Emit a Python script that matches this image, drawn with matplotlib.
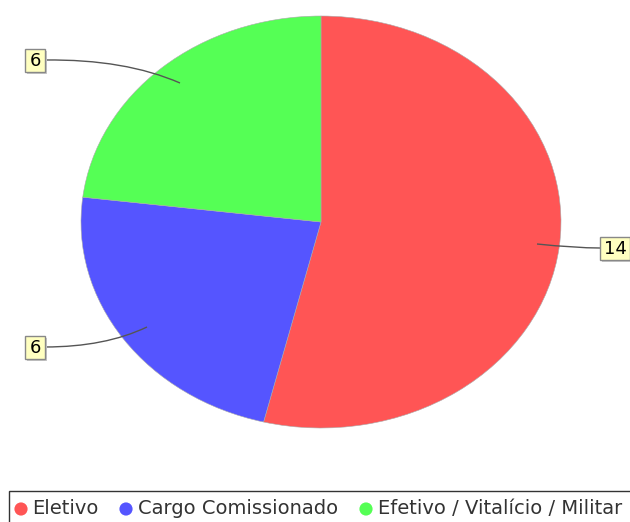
import matplotlib
matplotlib.use("Agg")
import matplotlib.pyplot as plt
from matplotlib.path import Path
from matplotlib.patches import PathPatch, Rectangle

categories = ["Eletivo", "Cargo Comissionado", "Efetivo / Vitalício / Militar"]
values = [14, 6, 6]
colors = ["#FF5555", "#5555FF", "#55FF55"]

W, H = 630, 522
fig = plt.figure(figsize=(W / 100, H / 100), dpi=100)
fig.patch.set_facecolor("white")

# Pie axes: ellipse center (321,222), radii 240 x 206 px
cx, cy, rx, ry = 321, 222, 240, 206
ax = fig.add_axes([0, 0, 1, 1])
ax.pie(values, colors=colors, startangle=90, counterclock=False,
       wedgeprops=dict(linewidth=0.4, edgecolor="#AAAAAA"))
ax.set_aspect("auto")
ax.set_xlim((0 - cx) / rx, (W - cx) / rx)
ax.set_ylim((cy - H) / ry, (cy - 0) / ry)
ax.axis("off")

# Overlay axes in pixel coordinates
ov = fig.add_axes([0, 0, 1, 1])
ov.set_xlim(0, W)
ov.set_ylim(H, 0)
ov.axis("off")
ov.patch.set_alpha(0)

# leader lines (value index, path points)
leaders = [
    (0, [(600, 248), (575, 248), (537, 244)]),
    (1, [(45, 347), (105, 347), (147, 327)]),
    (2, [(45, 60), (125, 59), (180, 83)]),
]
# label boxes: value index -> (left x, center y)
label_box = {0: (600, 248), 1: (25, 347), 2: (25, 60)}
for idx, pts in leaders:
    path = Path(pts, [Path.MOVETO, Path.CURVE3, Path.CURVE3])
    ov.add_patch(PathPatch(path, fc="none", ec="#555555", lw=1.0))
for idx, (x, y) in label_box.items():
    txt = str(values[idx])
    bw = 10 + 10 * len(txt)
    bh = 23
    ov.add_patch(Rectangle((x + 2, y - bh / 2 + 2), bw, bh, fc="#C8C8C8", ec="none", zorder=3))
    ov.add_patch(Rectangle((x, y - bh / 2), bw, bh, fc="#FFFFC0", ec="#888888", lw=1, zorder=4))
    ov.text(x + bw / 2, y + 1, txt, fontsize=13, ha="center", va="center",
            color="black", zorder=5)

# Legend box
ov.add_patch(Rectangle((9, 491), 640, 40, fc="white", ec="#333333", lw=1))
leg_x = [(21, 32), (126, 138), (366, 378)]
for (mx, tx), c, name in zip(leg_x, colors, categories):
    ov.scatter([mx], [509], s=90, color=c, edgecolors="none", zorder=5)
    ov.text(tx, 509, name, fontsize=14, va="center", ha="left", color="#333333")

fig.savefig("out.png", dpi=100)
